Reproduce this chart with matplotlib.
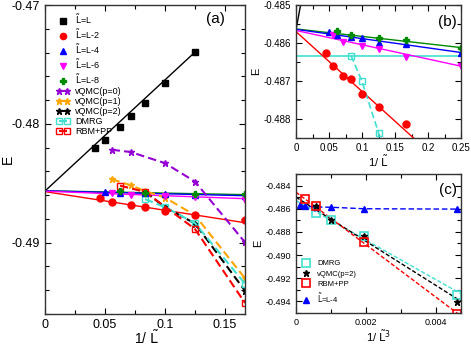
import numpy as np
import matplotlib
matplotlib.use("Agg")
import matplotlib.pyplot as plt
from matplotlib.ticker import MultipleLocator, FuncFormatter
from matplotlib.legend_handler import HandlerLine2D

plt.rcParams['font.family'] = ['Liberation Sans', 'DejaVu Sans']
plt.rcParams['mathtext.fontset'] = 'dejavusans'

# ---- data (L~ values and energies) ----
Lt_L = [24, 20, 16, 14, 12, 10, 8]
E_L = [-0.48206, -0.48138, -0.48025, -0.47935, -0.47828, -0.47658, -0.47396]

Lt_L2 = [22, 18, 14, 12, 10, 8, 6]
E_L2 = [-0.48627, -0.48660, -0.48686, -0.48696, -0.48734, -0.48768, -0.48813]

Lt_L4 = [20, 16, 12, 10, 8, 6, 4]
E_L4 = [-0.48570, -0.48578, -0.48585, -0.48587, -0.48600, -0.48603, -0.48625]

Lt_L6 = [18, 14, 10, 8, 6, 4]
E_L6 = [-0.48580, -0.48597, -0.48609, -0.48615, -0.48638, -0.48661]

Lt_L8 = [16, 12, 8, 6, 4]
E_L8 = [-0.48569, -0.48580, -0.48588, -0.48591, -0.48612]

Lt_p0 = [18, 14, 10, 8, 6]
E_p0 = [-0.48218, -0.48237, -0.48331, -0.48486, -0.48997]

Lt_p1 = [18, 14, 12, 10, 8, 6]
E_p1 = [-0.48466, -0.48517, -0.48565, -0.48621, -0.48769, -0.49300]

Lt_p2 = [12, 10, 8, 6]
E_p2 = [-0.48572, -0.48701, -0.48839, -0.49404]

Lt_dmrg = [12, 10, 8, 6]
E_dmrg = [-0.48633, -0.48701, -0.48836, -0.49345]

Lt_rbm = [16, 12, 8, 6]
E_rbm = [-0.48520, -0.48572, -0.48885, -0.49507]

# linear extrapolation lines: (intercept, slope, x_end)
fit_L = (-0.48565, 0.0935, 0.125)
fit_L2 = (-0.48570, -0.01572, 0.25)
fit_L4 = (-0.48564, -0.00244, 0.25)
fit_L6 = (-0.48567, -0.00376, 0.25)
fit_L8 = (-0.48563, -0.00196, 0.25)
E_dmrg_inf = -0.48633

# fits vs 1/L~^3 in panel (c)
fit3_dmrg = (-0.48530, -1.70)
fit3_p2 = (-0.48500, -1.90)
fit3_rbm = (-0.48457, -2.26)

# colours
c_red = '#ff0000'
c_blue = '#0000ff'
c_mag = '#ff00ff'
c_green = '#008b00'
c_purple = '#9400d3'
c_orange = '#ffa500'
c_cyan = '#40e0d0'

LT = r'$\tilde{\mathrm{L}}$'


def inv(lt, p=1):
    return 1.0 / np.array(lt, dtype=float) ** p


def fitline(ax, fit, color, **kw):
    b, m, xe = fit
    xs = np.array([0.0, xe])
    ax.plot(xs, b + m * xs, color=color, lw=1, **kw)


def style(ax, fs):
    ax.tick_params(which='both', direction='in', top=True, right=True, labelsize=fs)
    ax.tick_params(which='major', length=4.5, width=0.8)
    ax.tick_params(which='minor', length=3, width=0.8)
    for s in ax.spines.values():
        s.set_linewidth(1.0)
        s.set_color('#333333')


fig = plt.figure(figsize=(4.71, 3.46), dpi=100)
axa = fig.add_axes([45/471, 1-314/346, 200/471, 309/346])
axb = fig.add_axes([296/471, 1-138/346, 165/471, 133/346])
axc = fig.add_axes([296/471, 1-313/346, 165/471, 139/346])

ms = 4.5
# ---------------- panel (a) ----------------
fitline(axa, fit_L, 'black')
fitline(axa, fit_L2, c_red)
fitline(axa, fit_L8, c_green)
fitline(axa, fit_L4, c_blue)
fitline(axa, fit_L6, c_mag)

dash = dict(ls=(0, (4, 2)), lw=1.5)
hp0, = axa.plot(inv(Lt_p0), E_p0, color=c_purple, marker='*', ms=5, **dash, label='vQMC(p=0)')
hp1, = axa.plot(inv(Lt_p1), E_p1, color=c_orange, marker='*', ms=5, **dash, label='vQMC(p=1)')
hp2, = axa.plot(inv(Lt_p2), E_p2, color='black', marker='*', ms=5, **dash, label='vQMC(p=2)')
hdm, = axa.plot(inv(Lt_dmrg), E_dmrg, color=c_cyan, marker='s', ms=5, mfc='none', **dash, label='DMRG')
hrb, = axa.plot(inv(Lt_rbm), E_rbm, color=c_red, marker='s', ms=5, mfc='none', **dash, label='RBM+PP')

h0, = axa.plot(inv(Lt_L), E_L, 's', color='black', ms=ms, label=LT + '=L')
h2, = axa.plot(inv(Lt_L2), E_L2, 'o', color=c_red, ms=ms + 0.5, label=LT + '=L-2')
h4, = axa.plot(inv(Lt_L4), E_L4, '^', color=c_blue, ms=ms, label=LT + '=L-4')
h6, = axa.plot(inv(Lt_L6), E_L6, 'v', color=c_mag, ms=ms, label=LT + '=L-6')
h8, = axa.plot(inv(Lt_L8), E_L8, 'P', color=c_green, ms=ms, label=LT + '=L-8')

axa.set_xlim(0, 1/6)
axa.set_ylim(-0.496, -0.47)
axa.xaxis.set_major_locator(MultipleLocator(0.05))
axa.xaxis.set_minor_locator(MultipleLocator(0.025))
axa.yaxis.set_major_locator(MultipleLocator(0.01))
axa.yaxis.set_minor_locator(MultipleLocator(0.002))
style(axa, 9)
axa.xaxis.set_major_formatter(FuncFormatter(lambda v, p: '0' if abs(v) < 1e-9 else f'{v:g}'))
axa.yaxis.set_major_formatter(FuncFormatter(lambda v, p: f'{v:g}'))
axa.set_xlabel('1/ ' + LT, fontsize=10)
axa.xaxis.set_label_coords(0.51, -0.05)
axa.set_ylabel('E', fontsize=10)
axa.yaxis.set_label_coords(-0.15, 0.5)
axa.text(0.85, 0.955, '(a)', transform=axa.transAxes, fontsize=11, ha='center', va='center')

handles = [h0, h2, h4, h6, h8, hp0, hp1, hp2, hdm, hrb]
hm = {h: HandlerLine2D(numpoints=2) for h in [hp0, hp1, hp2, hdm, hrb]}
axa.legend(handles=handles, handler_map=hm, loc='upper left', bbox_to_anchor=(0.055, 0.975),
           frameon=False, fontsize=6.5, handlelength=1.5, handletextpad=0.6,
           labelspacing=0.12, borderpad=0, borderaxespad=0, markerscale=0.9)

# ---------------- panel (b) ----------------
fitline(axb, fit_L, 'black')
axb.axhline(E_dmrg_inf, color=c_cyan, lw=1.2)
fitline(axb, fit_L2, c_red)
fitline(axb, fit_L8, c_green)
fitline(axb, fit_L4, c_blue)
fitline(axb, fit_L6, c_mag)
axb.plot(inv(Lt_dmrg), E_dmrg, color=c_cyan, marker='s', ms=4.5, mfc='none', ls=(0, (4, 2)), lw=1.2)
axb.plot(inv(Lt_L2), E_L2, 'o', color=c_red, ms=5)
axb.plot(inv(Lt_L4), E_L4, '^', color=c_blue, ms=4.5)
axb.plot(inv(Lt_L6), E_L6, 'v', color=c_mag, ms=4.5)
axb.plot(inv(Lt_L8), E_L8, 'P', color=c_green, ms=4.5)
axb.set_xlim(0, 0.25)
axb.set_ylim(-0.4885, -0.485)
axb.xaxis.set_major_locator(MultipleLocator(0.05))
axb.xaxis.set_minor_locator(MultipleLocator(0.025))
axb.yaxis.set_major_locator(MultipleLocator(0.001))
axb.yaxis.set_minor_locator(MultipleLocator(0.0005))
style(axb, 7)
axb.xaxis.set_major_formatter(FuncFormatter(lambda v, p: '0' if abs(v) < 1e-9 else f'{v:g}'))
axb.yaxis.set_major_formatter(FuncFormatter(lambda v, p: f'{v:.3f}'))
axb.set_xlabel('1/ ' + LT, fontsize=8, labelpad=1)
axb.set_ylabel('E', fontsize=8, labelpad=2)
axb.text(0.92, 0.87, '(b)', transform=axb.transAxes, fontsize=11, ha='center', va='center')

# ---------------- panel (c) ----------------
xs3 = np.array([0.0, 0.00473])
axc.plot(xs3, fit3_dmrg[0] + fit3_dmrg[1] * xs3, color=c_cyan, lw=1, ls=(0, (3, 1.5)))
axc.plot(xs3, fit3_p2[0] + fit3_p2[1] * xs3, color='black', lw=1, ls=(0, (3, 1.5)))
axc.plot(xs3, fit3_rbm[0] + fit3_rbm[1] * xs3, color=c_red, lw=1, ls=(0, (3, 1.5)))
c1, = axc.plot(inv(Lt_L4[:-1], 3), E_L4[:-1], color=c_blue, marker='^', ms=4.5, ls=(0, (4, 2)), lw=1,
               label=LT + '=L-4')
c2, = axc.plot(inv(Lt_dmrg, 3), E_dmrg, 's', color=c_cyan, ms=5.5, mfc='none', mew=1.2, label='DMRG')
c3, = axc.plot(inv(Lt_p2, 3), E_p2, '*', color='black', ms=5, label='vQMC(p=2)')
c4, = axc.plot(inv(Lt_rbm, 3), E_rbm, 's', color=c_red, ms=5.5, mfc='none', mew=1.2, label='RBM+PP')
axc.set_xlim(0, 0.00473)
axc.set_ylim(-0.495, -0.483)
axc.xaxis.set_major_locator(MultipleLocator(0.002))
axc.xaxis.set_minor_locator(MultipleLocator(0.001))
axc.yaxis.set_major_locator(MultipleLocator(0.002))
axc.yaxis.set_minor_locator(MultipleLocator(0.001))
style(axc, 6.5)
axc.xaxis.set_major_formatter(FuncFormatter(lambda v, p: '0' if abs(v) < 1e-9 else f'{v:.3f}'))
axc.yaxis.set_major_formatter(FuncFormatter(lambda v, p: f'{v:.3f}'))
axc.set_xlabel('1/ ' + r'$\tilde{\mathrm{L}}^3$', fontsize=8, labelpad=1)
axc.set_ylabel('E', fontsize=8, labelpad=2)
axc.text(0.92, 0.885, '(c)', transform=axc.transAxes, fontsize=11, ha='center', va='center')
axc.legend(handles=[c2, c3, c4, c1], loc='lower left', bbox_to_anchor=(0.04, 0.06),
           frameon=False, fontsize=5.5, handlelength=1.0, handletextpad=0.9,
           labelspacing=0.4, borderpad=0, borderaxespad=0)
for lh in axc.get_legend().legend_handles:
    lh.set_linestyle('none')

fig.savefig('out.png', dpi=100)
